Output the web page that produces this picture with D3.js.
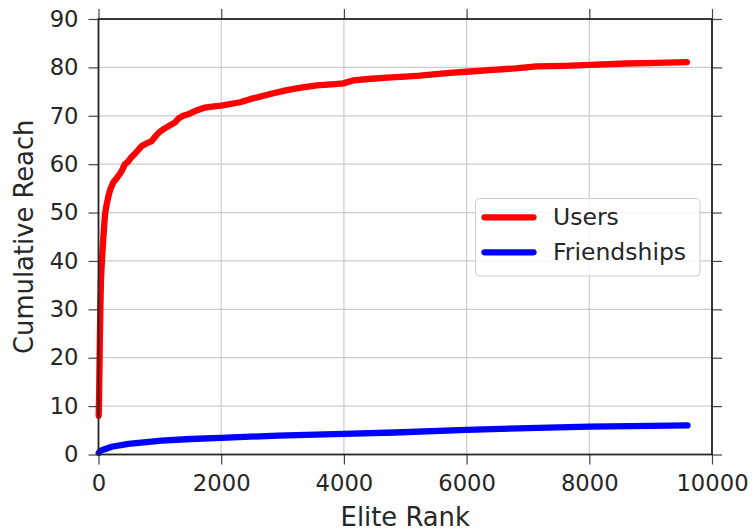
<!DOCTYPE html>
<html><head><meta charset="utf-8">
<script src="https://cdn.jsdelivr.net/npm/d3@7"></script>
<style>body{margin:0;background:#fff}svg{display:block}text{font-family:"DejaVu Sans",sans-serif;fill:#262626}</style>
</head><body><svg id="c" width="753" height="531"></svg>
<script>
const userRank = [3,10,20,30,40,60,80,105,130,160,190,240,320,375,430,480,540,620,700,785,860,945,1000,1080,1160,1245,1310,1380,1460,1545,1640,1735,1850,2000,2310,2520,2800,3070,3300,3560,3800,3990,4150,4400,4700,5000,5240,5500,5780,6000,6430,6800,7140,7600,8010,8610,9100,9590];
const userReach = [8,12,22,30,36,41,45,49.5,51.5,53.3,54.7,56.2,57.5,58.5,60,60.5,61.5,62.5,63.7,64.3,64.7,66,66.7,67.4,68,68.6,69.5,70,70.3,70.8,71.3,71.7,71.9,72.1,72.8,73.6,74.5,75.3,75.8,76.3,76.5,76.7,77.3,77.6,77.9,78.1,78.3,78.6,78.9,79.1,79.5,79.8,80.2,80.3,80.5,80.8,80.95,81.1];
const friendRank = [3,25,100,215,485,1030,1500,2000,2925,3990,4830,6000,7000,8000,9000,9600];
const friendReach = [0.3,0.75,1.1,1.6,2.2,2.85,3.2,3.45,3.9,4.25,4.55,5.1,5.45,5.75,5.9,6.0];
const xTicks = [0,2000,4000,6000,8000,10000];
const yTicks = [0,10,20,30,40,50,60,70,80,90];
const seriesNames = ["Users","Friendships"];
const seriesColors = ["#ff0000","#0000ff"];

const L=98.5,R=712,T=19,B=454.5;
const svg=d3.select("#c");
const x=d3.scaleLinear().domain([0,10000]).range([L,R]);
const y=d3.scaleLinear().domain([0,90]).range([B,T]);

// grid
const g=svg.append("g");
g.selectAll(".gx").data(xTicks).join("line").attr("x1",d=>x(d)).attr("x2",d=>x(d)).attr("y1",T).attr("y2",B).attr("stroke","#cccccc").attr("stroke-width",1.2);
g.selectAll(".gy").data(yTicks).join("line").attr("y1",d=>y(d)).attr("y2",d=>y(d)).attr("x1",L).attr("x2",R).attr("stroke","#cccccc").attr("stroke-width",1.2);

// lines
const line=d3.line().x(d=>x(d[0])).y(d=>y(d[1]));
const users=userRank.map((r,i)=>[r,userReach[i]]);
const friends=friendRank.map((r,i)=>[r,friendReach[i]]);
[users,friends].forEach((d,i)=>{
  svg.append("path").datum(d).attr("d",line).attr("fill","none").attr("stroke",seriesColors[i]).attr("stroke-width",6.3).attr("stroke-linecap","round").attr("stroke-linejoin","round");
});

// axes
const fmt=d3.format("d");
const ax=(gen,tr)=>{const a=svg.append("g").attr("transform",tr).call(gen);a.select(".domain").remove();a.selectAll(".tick line").attr("stroke","#444").attr("stroke-width",1.2);a.selectAll("text").style("font-size","22.7px").attr("fill","#262626");return a;};
ax(d3.axisBottom(x).tickValues(xTicks).tickFormat(fmt).tickSize(10).tickPadding(10),`translate(0,${B})`);
ax(d3.axisTop(x).tickValues(xTicks).tickFormat("").tickSize(10),`translate(0,${T})`);
ax(d3.axisLeft(y).tickValues(yTicks).tickFormat(fmt).tickSize(10).tickPadding(10),`translate(${L},0)`);
ax(d3.axisRight(y).tickValues(yTicks).tickFormat("").tickSize(10),`translate(${R},0)`);

// spines
svg.append("rect").attr("x",L).attr("y",T).attr("width",R-L).attr("height",B-T).attr("fill","none").attr("stroke","#262626").attr("stroke-width",1.8);

// axis labels
svg.append("text").attr("x",(L+R)/2).attr("y",526).attr("text-anchor","middle").style("font-size","25.8px").text("Elite Rank");
svg.append("text").attr("transform",`translate(33,${(T+B)/2}) rotate(-90)`).attr("text-anchor","middle").style("font-size","25.8px").text("Cumulative Reach");

// legend
const lg=svg.append("g");
lg.append("rect").attr("x",475.5).attr("y",198.5).attr("width",224.5).attr("height",77.5).attr("rx",4).attr("fill","#fff").attr("fill-opacity",0.8).attr("stroke","#cccccc").attr("stroke-width",1);
seriesNames.forEach((n,i)=>{
  const yy=217.3+i*35;
  lg.append("line").attr("x1",484.5).attr("x2",533.5).attr("y1",yy).attr("y2",yy).attr("stroke",seriesColors[i]).attr("stroke-width",6.3).attr("stroke-linecap","round");
  lg.append("text").attr("x",553).attr("y",yy+8).style("font-size","23.5px").text(n);
});
</script></body></html>
